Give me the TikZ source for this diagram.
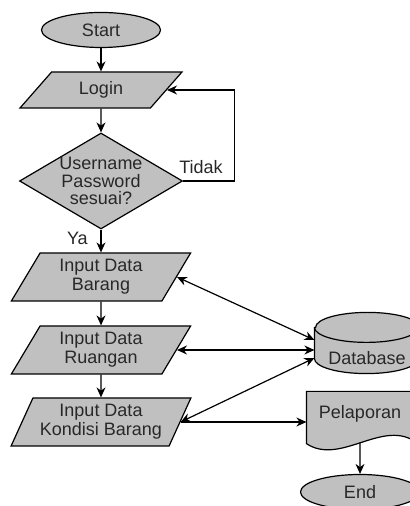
\documentclass[tikz,border=0pt]{standalone}
\usepackage{fontspec}
\setmainfont{Liberation Sans}
\usepackage{tikz}
\usetikzlibrary{arrows.meta,shapes.geometric,positioning,calc}
\definecolor{boxgray}{RGB}{192,192,192}
\definecolor{inkgray}{RGB}{40,40,40}
\begin{document}
\begin{tikzpicture}
	[x=0.5pt,y=0.5pt,line width=0.6pt,
	every node/.style={font=\fontsize{9}{9.6}\selectfont,text=inkgray,align=center},
	terminal/.style={ellipse,draw,fill=boxgray,minimum width=59.5pt,minimum height=17.5pt,inner sep=0pt},
	inout/.style={trapezium,draw,fill=boxgray,trapezium stretches=true,inner sep=0pt},
	decision/.style={diamond,draw,fill=boxgray,aspect=1.7,minimum width=81.5pt,minimum height=48pt,inner sep=-1.5pt,font=\fontsize{9}{8.6}\selectfont},
	arr/.style={-{Stealth[length=5pt,width=4.5pt]}},
	both/.style={{Stealth[length=5pt,width=4.5pt]}-{Stealth[length=5pt,width=4.5pt]}}]
	\useasboundingbox (0,0) rectangle (410,506);
	\node[terminal] (start) at (101,476) {Start};
	\node[inout,trapezium left angle=50,trapezium right angle=130,minimum width=81pt,minimum height=18pt] (login) at (101,416) {Login};
	\node[decision] (check) at (101,325) {Username\\Password\\sesuai?};
	\node[inout,trapezium left angle=61,trapezium right angle=119,minimum width=90pt,minimum height=24pt] (barang) at (101,229) {Input Data\\Barang};
	\node[inout,trapezium left angle=61,trapezium right angle=119,minimum width=90pt,minimum height=24pt] (ruangan) at (101,156) {Input Data\\Ruangan};
	\node[inout,trapezium left angle=61,trapezium right angle=119,minimum width=90pt,minimum height=24pt] (kondisi) at (101,84) {Input Data\\Kondisi Barang};
	\node[minimum width=52pt,minimum height=30pt,inner sep=0pt] (db) at (367,163) {};
	\node[minimum width=53pt,minimum height=21.5pt,inner sep=0pt] (rep) at (360,92.5) {};
	\node[terminal] (end) at (360,14) {End};
	\filldraw[fill=boxgray] ([yshift=-7.5pt]db.north west) -- ([yshift=7.5pt]db.south west)
		arc[start angle=180,end angle=360,x radius=26pt,y radius=7.5pt] -- ([yshift=-7.5pt]db.north east)
		arc[start angle=0,end angle=180,x radius=26pt,y radius=7.5pt] -- cycle;
	\draw ([yshift=-7.5pt]db.north west) arc[start angle=180,end angle=360,x radius=26pt,y radius=7.5pt];
	\node at ([yshift=-7.5pt]db.center) {Database};
	\filldraw[fill=boxgray] (rep.north west) -- (rep.north east) -- ([yshift=-2.5pt]rep.south east)
		.. controls +(-33,20) and +(33,-22) .. coordinate[pos=0.5] (wave) ([yshift=-4pt]rep.south west) -- cycle;
	\node at (rep) {Pelaporan};
	\draw[arr] (start) -- (login);
	\draw[arr] (login) -- (check);
	\draw[arr] (check.east) -- node[above,pos=0.35]{Tidak} ++(51,0) |- (login.east);
	\draw[arr] (check) -- node[pos=0.4,left=3pt]{Ya} (barang);
	\draw[arr] (barang) -- (ruangan);
	\draw[arr] (ruangan) -- (kondisi);
	\draw[both] (barang.east) -- ([yshift=1.5pt]db.west);
	\draw[both] (ruangan.east) -- (db.west |- ruangan.east);
	\draw[both] (kondisi.east) -- ([yshift=-7.5pt]db.west);
	\draw[arr] (kondisi.east) -- (rep.west |- kondisi.east);
	\draw[arr] (wave) -- (end);
\end{tikzpicture}
\end{document}
